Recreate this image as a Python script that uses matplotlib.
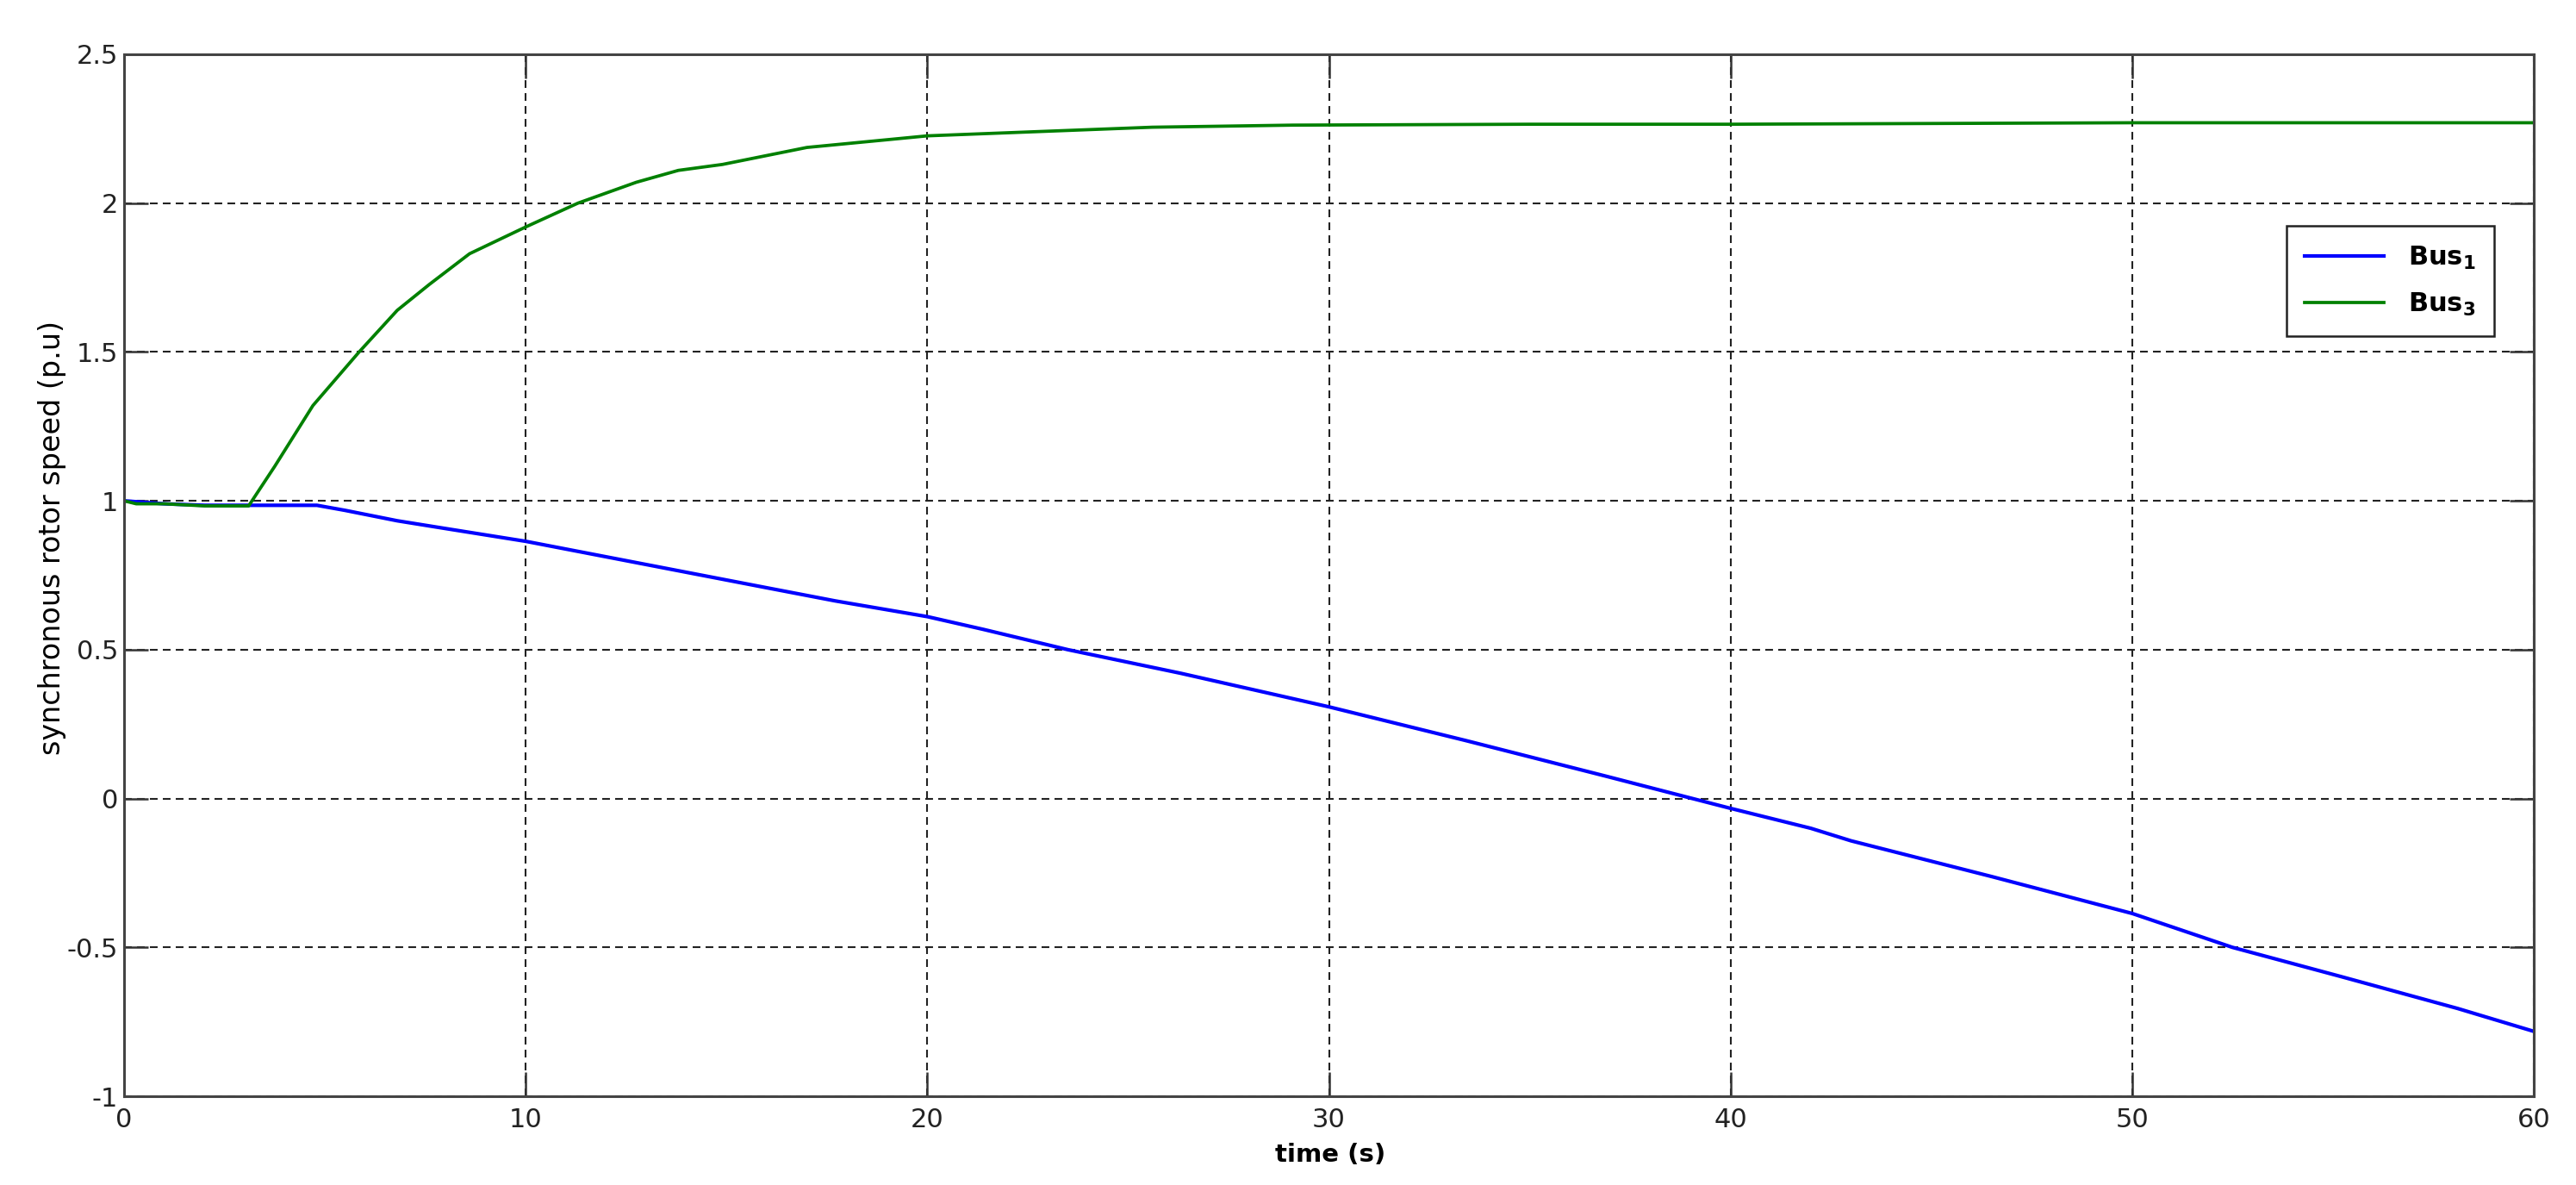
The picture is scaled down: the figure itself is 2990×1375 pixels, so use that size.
"""
Synchronous rotor speed of Bus 1 and Bus 3 over a 60 s simulation.
"""

import matplotlib
matplotlib.use("Agg")
import matplotlib.pyplot as plt
from matplotlib.ticker import FuncFormatter

# values
bus1_time = [0, 0.5, 1, 2, 3, 3.2, 4.8, 5.5, 6.8, 8, 10, 12, 14, 16, 17.7, 20,
             21.4, 23.5, 26.3, 30, 33.4, 36.9, 40, 42, 43, 46.5, 50,
             52.5, 55.2, 58.1, 60]
bus1_speed = [1.0, 0.995, 0.99, 0.985, 0.985, 0.985, 0.985, 0.968, 0.933,
              0.907, 0.864, 0.812, 0.76, 0.708, 0.664, 0.611, 0.568, 0.50,
              0.421, 0.308, 0.195, 0.075, -0.033, -0.10, -0.142, -0.262,
              -0.386, -0.50, -0.598, -0.705, -0.782]

bus3_time = [0, 0.3, 1, 2, 3.1, 3.75, 4.7, 5.85, 6.8, 7.6, 8.6, 10, 11.3,
             12.75, 13.8, 14.9, 17, 20, 22.7, 25.6, 29.1, 35, 40, 50, 60]
bus3_speed = [1.0, 0.99, 0.99, 0.983, 0.983, 1.116, 1.32, 1.50, 1.64, 1.727,
              1.83, 1.92, 2.0, 2.07, 2.11, 2.13, 2.187, 2.226, 2.24, 2.255,
              2.262, 2.265, 2.265, 2.27, 2.27]

x_ticks = [0, 10, 20, 30, 40, 50, 60]
y_ticks = [-1, -0.5, 0, 0.5, 1, 1.5, 2, 2.5]

plt.rcParams["font.family"] = ["DejaVu Sans"]
plt.rcParams["mathtext.fontset"] = "dejavusans"

fig = plt.figure(figsize=(29.9, 13.75), dpi=100)
ax = fig.add_axes([0.0482, 0.0749, 0.9354, 0.8793])

ax.plot(bus1_time, bus1_speed, color="#0000ff", lw=3.0, label=r"Bus$_\mathbf{1}$")
ax.plot(bus3_time, bus3_speed, color="#008000", lw=2.7, label=r"Bus$_\mathbf{3}$")

ax.set_xlim(0, 60)
ax.set_ylim(-1, 2.5)
ax.set_xticks(x_ticks)
ax.set_yticks(y_ticks)
ax.yaxis.set_major_formatter(FuncFormatter(lambda v, p: "%g" % v))
ax.xaxis.set_major_formatter(FuncFormatter(lambda v, p: "%g" % v))

# matlab-ish look: inward ticks on all sides, dashed black grid
ax.tick_params(direction="in", length=20, width=1.8, labelsize=22,
               top=True, right=True, color="#333333", labelcolor="#222222")
ax.tick_params(axis="x", pad=9)
ax.tick_params(axis="y", pad=5)
ax.grid(True, color="#222222", lw=1.5, linestyle=(0, (4.3, 2.9)))
ax.set_axisbelow(True)
for side in ax.spines.values():
    side.set_color("#444444")
    side.set_linewidth(2.2)

ax.set_xlabel("time (s)", fontsize=21, fontweight="bold", va="center")
ax.xaxis.set_label_coords(0.5005, -0.056)
ax.set_ylabel("synchronous rotor speed (p.u)", fontsize=24, va="center")
ax.yaxis.set_label_coords(-0.030, 0.536)

leg = ax.legend(loc="upper right", bbox_to_anchor=(0.9835, 0.835),
                borderaxespad=0, fancybox=False, framealpha=1,
                edgecolor="#222222", handlelength=3.0, handletextpad=0.9,
                labelspacing=0.75, borderpad=0.7,
                prop={"size": 22, "weight": "bold"})
leg.get_frame().set_linewidth(1.8)

fig.savefig("out.png", dpi=100)
plt.close(fig)
